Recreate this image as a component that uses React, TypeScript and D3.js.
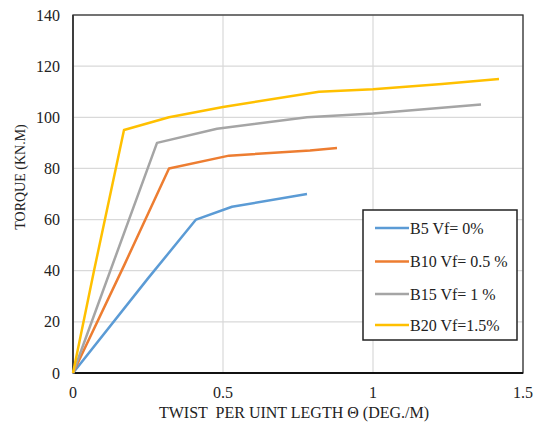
import React from "react";
import * as d3 from "d3";

const seriesNames = ["B5 Vf= 0%", "B10 Vf= 0.5 %", "B15 Vf= 1 %", "B20 Vf=1.5%"];
const seriesColors = ["#5B9BD5", "#ED7D31", "#A5A5A5", "#FFC000"];
const b5: [number, number][] = [[0, 0], [0.25, 37], [0.41, 60], [0.53, 65], [0.78, 70]];
const b10: [number, number][] = [[0, 0], [0.17, 42], [0.32, 80], [0.52, 85], [0.79, 87], [0.88, 88]];
const b15: [number, number][] = [[0, 0], [0.28, 90], [0.48, 95.5], [0.78, 100], [1.0, 101.5], [1.36, 105]];
const b20: [number, number][] = [[0, 0], [0.07, 40], [0.17, 95], [0.32, 100], [0.5, 104], [0.82, 110], [1.0, 111], [1.23, 113], [1.42, 115]];
const xTicks = [0, 0.5, 1, 1.5];
const yTicks = [0, 20, 40, 60, 80, 100, 120, 140];

const W = 538, H = 425;
const M = { left: 73, right: 523, top: 15, bottom: 373 };
const txt = { fontFamily: "Liberation Serif", whiteSpace: "pre" as const };

export default function App() {
  const x = d3.scaleLinear().domain([0, 1.5]).range([M.left, M.right]);
  const y = d3.scaleLinear().domain([0, 140]).range([M.bottom, M.top]);
  const line = d3.line<[number, number]>().x(d => x(d[0])).y(d => y(d[1]));
  const all = [b5, b10, b15, b20];
  const legX = 363, legY = 210, legW = 154, legH = 130;
  const rowY = [228, 261.5, 294, 325];
  return (
    <svg width={W} height={H} style={{ position: "absolute", left: 0, top: 0 }}>
      <rect width={W} height={H} fill="#fff" />
      {yTicks.map(t => (
        <line key={"gy" + t} x1={M.left} x2={M.right} y1={y(t)} y2={y(t)} stroke="#d9d9d9" strokeWidth={1.2} />
      ))}
      {xTicks.map(t => (
        <line key={"gx" + t} x1={x(t)} x2={x(t)} y1={M.top} y2={M.bottom} stroke="#d9d9d9" strokeWidth={1.2} />
      ))}
      <rect x={M.left} y={M.top} width={M.right - M.left} height={M.bottom - M.top} fill="none" stroke="#333" strokeWidth={1.3} />
      <line x1={M.left} x2={M.right} y1={M.bottom} y2={M.bottom} stroke="#111" strokeWidth={2} />
      <line x1={M.left} x2={M.left} y1={M.top} y2={M.bottom} stroke="#333" strokeWidth={1.6} />
      {all.map((s, i) => (
        <path key={i} d={line(s) || ""} fill="none" stroke={seriesColors[i]} strokeWidth={2.5} strokeLinejoin="round" />
      ))}
      {yTicks.map(t => (
        <text key={"ty" + t} x={60} y={y(t)} dy="0.35em" textAnchor="end" style={txt} fontSize={16} fill="#222">{t}</text>
      ))}
      {xTicks.map(t => (
        <text key={"tx" + t} x={x(t)} y={398} textAnchor="middle" style={txt} fontSize={16} fill="#222">{t}</text>
      ))}
      <text x={294} y={418} textAnchor="middle" style={txt} fontSize={16} fill="#222">{"TWIST  PER UINT LEGTH Θ (DEG./M)"}</text>
      <text transform={`translate(25,177) rotate(-90)`} textAnchor="middle" style={txt} fontSize={14} fill="#222">TORQUE (KN.M)</text>
      <rect x={legX} y={legY} width={legW} height={legH} fill="#fff" stroke="#222" strokeWidth={1.5} />
      {seriesNames.map((n, i) => (
        <g key={n}>
          <line x1={375} x2={409} y1={rowY[i]} y2={rowY[i]} stroke={seriesColors[i]} strokeWidth={2.5} />
          <text x={410} y={rowY[i]} dy="0.35em" style={txt} fontSize={16} fill="#222">{n}</text>
        </g>
      ))}
    </svg>
  );
}
